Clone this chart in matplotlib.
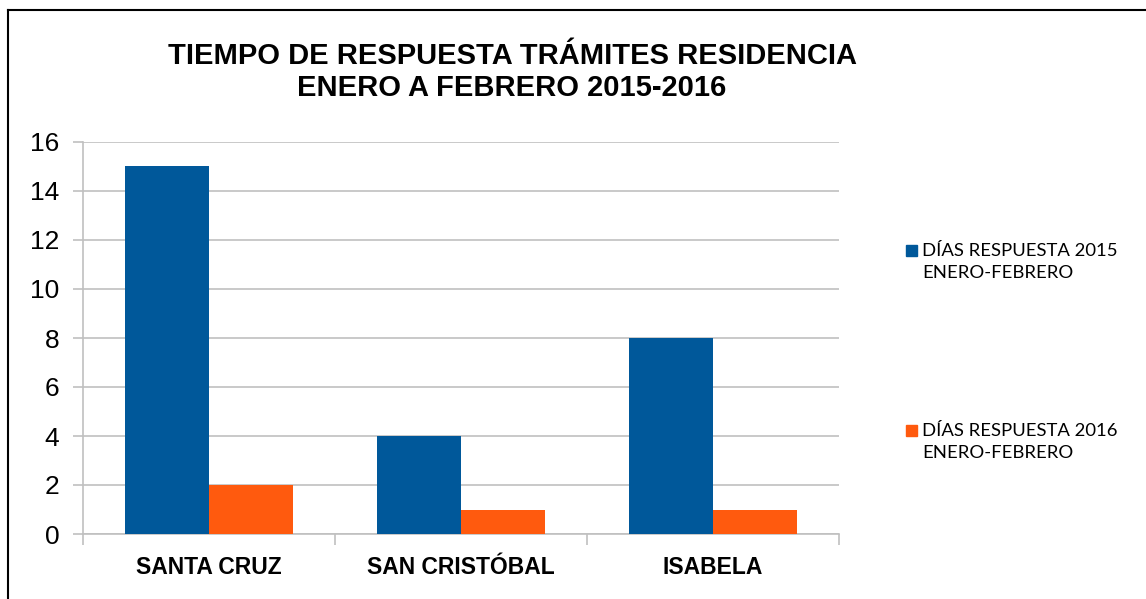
import matplotlib.pyplot as plt
import numpy as np
from matplotlib.patches import Rectangle
from matplotlib.lines import Line2D

W, H = 1146, 599

islas = ["SANTA CRUZ", "SAN CRISTÓBAL", "ISABELA"]
dias_2015 = [15, 4, 8]
dias_2016 = [2, 1, 1]
series = ["DÍAS RESPUESTA 2015\nENERO-FEBRERO", "DÍAS RESPUESTA 2016\nENERO-FEBRERO"]
colores = ["#00589A", "#FF5A0E"]
yticks = [0, 2, 4, 6, 8, 10, 12, 14, 16]

plt.rcParams['font.family'] = ['Liberation Sans', 'DejaVu Sans']

fig = plt.figure(figsize=(W / 100, H / 100), dpi=100)

def px(x, y):
    return x / W, 1 - y / H

# outer frame (top and left edges visible)
fig.add_artist(Line2D([8 / W, 1], [1 - 10 / H, 1 - 10 / H], color="black", lw=1.5))
fig.add_artist(Line2D([8 / W, 8 / W], [1 - 10 / H, 0], color="black", lw=1.5))

# plot area
left, right, top, bottom = 83, 839, 142, 534
ax = fig.add_axes([left / W, 1 - bottom / H, (right - left) / W, (bottom - top) / H])

x = np.arange(len(islas))
bw = 1 / 3
ax.bar(x - bw / 2, dias_2015, width=bw, color=colores[0], zorder=3)
ax.bar(x + bw / 2, dias_2016, width=bw, color=colores[1], zorder=3)

ax.set_xlim(-0.5, len(islas) - 0.5)
ax.set_ylim(0, 16)
ax.set_yticks(yticks)
ax.set_yticklabels([str(v) for v in yticks], fontsize=19)
ax.yaxis.grid(True, color="#C0C0C0", lw=1.2, zorder=0)

ax.set_xticks(x)
ax.set_xticklabels(islas, fontsize=16.5, fontweight="bold")
ax.tick_params(axis="x", length=0, pad=16)
ax.set_xticks(np.arange(-0.5, len(islas)), minor=True)
ax.tick_params(axis="x", which="minor", length=8, color="#C0C0C0", width=1.2)
ax.tick_params(axis="y", length=7, color="#C0C0C0", width=1.2, pad=10)

for s in ["top", "right"]:
    ax.spines[s].set_visible(False)
for s in ["left", "bottom"]:
    ax.spines[s].set_color("#C0C0C0")
    ax.spines[s].set_linewidth(1.2)

# title
fig.text(*px(512, 72), "TIEMPO DE RESPUESTA TRÁMITES RESIDENCIA\nENERO A FEBRERO 2015-2016",
         ha="center", va="center", fontsize=21, fontweight="bold", linespacing=1.15)

# legend
leg_y = [250, 430]
for lab, col, ly in zip(series, colores, leg_y):
    fig.add_artist(Rectangle(px(906, ly + 6), 11 / W, 11 / H, color=col))
    fig.text(*px(922, ly - 7), lab, ha="left", va="top", fontsize=13.3,
             family=["Lato", "DejaVu Sans"], linespacing=1.45)

fig.savefig("out.png", dpi=100)
